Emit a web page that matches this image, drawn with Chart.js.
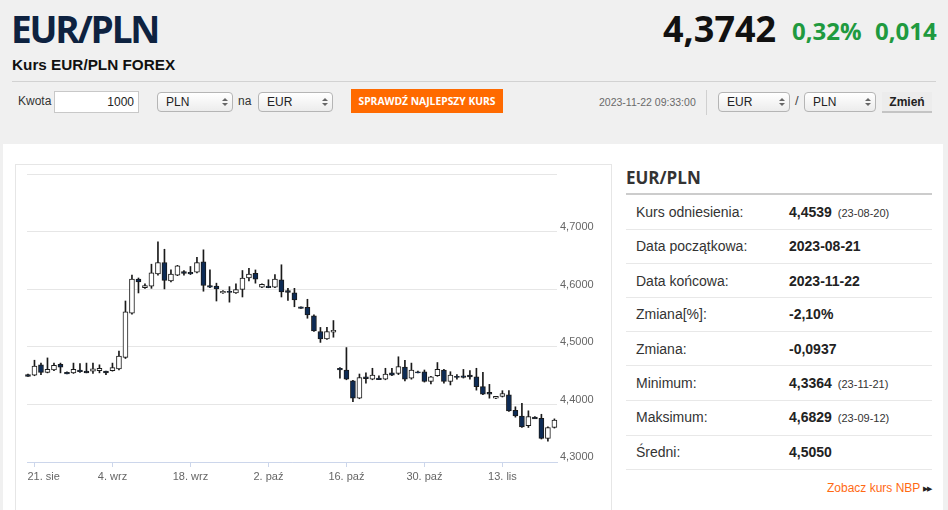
<!DOCTYPE html>
<html><head><meta charset="utf-8">
<script src="https://cdn.jsdelivr.net/npm/chart.js@4.4.0/dist/chart.umd.min.js"></script>
<style>
html,body{margin:0;padding:0;}
body{width:948px;height:510px;overflow:hidden;background:#f0f0f0;position:relative;font-family:Arial,"Liberation Sans",sans-serif;color:#333;}
.a{position:absolute;white-space:nowrap;}
.os{font-family:"Open Sans",Arial,sans-serif;font-weight:700;}
.sel{position:absolute;box-sizing:border-box;height:20px;border:1px solid #b5b5b5;border-radius:4px;background:linear-gradient(#ffffff,#ececec);font-size:12px;line-height:18px;padding-left:8px;color:#222;}
.sel .ar{position:absolute;right:7px;top:5px;width:0;height:0;}
.sel .ar:before{content:"";position:absolute;left:-3px;top:0;border-left:3px solid transparent;border-right:3px solid transparent;border-bottom:3px solid #666;}
.sel .ar:after{content:"";position:absolute;left:-3px;top:5px;border-left:3px solid transparent;border-right:3px solid transparent;border-top:3px solid #666;}
.row{position:absolute;left:636px;height:20px;line-height:20px;font-size:14px;color:#333;white-space:nowrap;}
.val{position:absolute;left:789px;height:20px;line-height:20px;font-size:14px;font-weight:bold;color:#222;white-space:nowrap;}
.val small{font-size:11px;font-weight:normal;color:#333;margin-left:6px;}
.ln{position:absolute;left:626px;width:306px;height:1px;background:#e8e8e8;}
</style></head>
<body>
<div class="a os" style="left:11px;top:10px;font-size:37px;line-height:37px;color:#0e2240;letter-spacing:-2.2px;">EUR/PLN</div>
<div class="a" style="left:12px;top:57px;font-size:15.3px;line-height:16px;font-weight:bold;color:#111;">Kurs EUR/PLN FOREX</div>
<div class="a os" style="left:663px;top:11px;font-size:36px;line-height:36px;color:#111;">4,3742</div>
<div class="a os" style="left:792px;top:19px;font-size:24px;line-height:24px;color:#1f9a3f;">0,32%</div>
<div class="a os" style="left:875px;top:19px;font-size:24px;line-height:24px;color:#1f9a3f;">0,014</div>
<div class="a" style="left:12px;top:81px;width:924px;height:1px;background:#d2d2d2;"></div>

<div class="a" style="left:18px;top:91px;font-size:12px;line-height:20px;color:#333;">Kwota</div>
<div class="a" style="left:54px;top:91px;width:85px;height:22px;box-sizing:border-box;border:1px solid #c8c8c8;background:#fff;font-size:12px;line-height:20px;text-align:right;padding-right:4px;color:#222;">1000</div>
<div class="sel" style="left:157px;top:92px;width:76px;">PLN<span class="ar"></span></div>
<div class="a" style="left:238px;top:91px;font-size:12px;line-height:20px;color:#333;">na</div>
<div class="sel" style="left:258px;top:92px;width:75px;">EUR<span class="ar"></span></div>
<div class="a os" style="left:351px;top:89px;width:152px;height:24px;background:#ff6a00;color:#fff;font-size:10.3px;line-height:24px;text-align:center;">SPRAWDŹ NAJLEPSZY KURS</div>
<div class="a" style="left:599px;top:92px;font-size:10.5px;line-height:20px;color:#6a6a6a;">2023-11-22 09:33:00</div>
<div class="a" style="left:706px;top:90px;width:1px;height:25px;background:#d0d0d0;"></div>
<div class="sel" style="left:718px;top:92px;width:72px;">EUR<span class="ar"></span></div>
<div class="a" style="left:795px;top:91px;font-size:13px;line-height:20px;color:#444;">/</div>
<div class="sel" style="left:804px;top:92px;width:72px;">PLN<span class="ar"></span></div>
<div class="a" style="left:882px;top:92px;width:50px;height:21px;box-sizing:border-box;background:#ececec;border-bottom:2px solid #c4c4c4;font-size:12px;font-weight:bold;line-height:20px;text-align:center;color:#222;">Zmień</div>

<div class="a" style="left:3px;top:144px;width:940px;height:380px;background:#fff;"></div>
<div class="a" style="left:15px;top:164px;width:595px;height:360px;border:1px solid #e6e6e6;"></div>
<div class="a" style="left:15px;top:164px;width:596px;height:330px;"><canvas id="c"></canvas></div>

<div class="a os" style="left:626px;top:166px;font-size:17px;line-height:23px;color:#333;">EUR/PLN</div>
<div class="a" style="left:626px;top:193px;width:306px;height:2px;background:#cccccc;"></div>
<div class="row" style="top:202px;">Kurs odniesienia:</div><div class="val" style="top:202px;">4,4539<small>(23-08-20)</small></div>
<div class="ln" style="top:229px;"></div>
<div class="row" style="top:236px;">Data początkowa:</div><div class="val" style="top:236px;">2023-08-21</div>
<div class="ln" style="top:263px;"></div>
<div class="row" style="top:271px;">Data końcowa:</div><div class="val" style="top:271px;">2023-11-22</div>
<div class="ln" style="top:297px;"></div>
<div class="row" style="top:304px;">Zmiana[%]:</div><div class="val" style="top:304px;">-2,10%</div>
<div class="ln" style="top:331px;"></div>
<div class="row" style="top:339px;">Zmiana:</div><div class="val" style="top:339px;">-0,0937</div>
<div class="ln" style="top:365px;"></div>
<div class="row" style="top:373px;">Minimum:</div><div class="val" style="top:373px;">4,3364<small>(23-11-21)</small></div>
<div class="ln" style="top:400px;"></div>
<div class="row" style="top:407px;">Maksimum:</div><div class="val" style="top:407px;">4,6829<small>(23-09-12)</small></div>
<div class="ln" style="top:435px;"></div>
<div class="row" style="top:442px;">Średni:</div><div class="val" style="top:442px;">4,5050</div>
<div class="ln" style="top:469px;"></div>
<div class="a" style="left:827px;top:478px;font-size:12px;line-height:20px;color:#ff6a13;">Zobacz kurs NBP <span style="color:#222;font-size:7px;letter-spacing:-1px;vertical-align:1px;">▶▶</span></div>

<script>
// Category positions (trading days incl. Sunday sessions), 2023-08-20 .. 2023-11-22
const dates = ['08-20','08-21','08-22','08-23','08-24','08-25','08-27','08-28','08-29','08-30','08-31','09-01',
'09-03','09-04','09-05','09-06','09-07','09-08','09-10','09-11','09-12','09-13','09-14','09-15',
'09-17','09-18','09-19','09-20','09-21','09-22','09-24','09-25','09-26','09-27','09-28','09-29',
'10-01','10-02','10-03','10-04','10-05','10-06','10-08','10-09','10-10','10-11','10-12','10-13',
'10-15','10-16','10-17','10-18','10-19','10-20','10-22','10-23','10-24','10-25','10-26','10-27',
'10-29','10-30','10-31','11-01','11-02','11-03','11-05','11-06','11-07','11-08','11-09','11-10',
'11-12','11-13','11-14','11-15','11-16','11-17','11-19','11-20','11-21','11-22'];
const tickDates = ['08-21','09-04','09-18','10-02','10-16','10-30','11-13'];
const tickLabels = ['21. sie','4. wrz','18. wrz','2. paź','16. paź','30. paź','13. lis'];
const yTickLabels = ['4,3000','4,4000','4,5000','4,6000','4,7000',''];

const opens = [4.452,4.451,4.469,4.456,4.460,4.470,4.456,4.455,4.460,4.458,4.458,4.459,
4.458,4.459,4.462,4.482,4.559,4.618,4.603,4.606,4.627,4.647,4.615,4.625,
4.631,4.630,4.630,4.648,4.607,4.606,4.594,4.597,4.594,4.600,4.620,4.628,
4.604,4.606,4.604,4.617,4.598,4.594,4.570,4.569,4.554,4.527,4.514,4.526,
4.463,4.460,4.441,4.411,4.448,4.444,4.446,4.444,4.455,4.454,4.465,4.446,
4.457,4.457,4.440,4.450,4.460,4.440,4.449,4.450,4.451,4.448,4.431,4.421,
4.411,4.414,4.417,4.390,4.380,4.363,4.378,4.376,4.341,4.360];
const highs = [4.453,4.477,4.472,4.481,4.472,4.472,4.457,4.472,4.471,4.472,4.472,4.469,
4.458,4.472,4.493,4.580,4.625,4.620,4.610,4.644,4.683,4.670,4.634,4.642,
4.633,4.640,4.656,4.669,4.634,4.611,4.598,4.605,4.610,4.633,4.637,4.634,
4.610,4.617,4.626,4.643,4.602,4.602,4.570,4.583,4.556,4.534,4.534,4.546,
4.464,4.499,4.442,4.453,4.455,4.463,4.450,4.463,4.463,4.483,4.477,4.472,
4.458,4.460,4.449,4.473,4.461,4.457,4.452,4.461,4.459,4.463,4.456,4.435,
4.414,4.424,4.424,4.396,4.402,4.389,4.379,4.383,4.361,4.375];
const lows = [4.449,4.450,4.452,4.455,4.459,4.455,4.453,4.454,4.456,4.455,4.454,4.455,
4.452,4.458,4.460,4.480,4.557,4.594,4.602,4.602,4.625,4.601,4.613,4.624,
4.625,4.626,4.629,4.597,4.603,4.580,4.593,4.578,4.593,4.587,4.615,4.611,
4.603,4.603,4.603,4.587,4.581,4.570,4.567,4.550,4.527,4.508,4.513,4.517,
4.446,4.443,4.405,4.410,4.437,4.443,4.443,4.443,4.450,4.452,4.441,4.444,
4.455,4.439,4.436,4.449,4.437,4.434,4.444,4.446,4.444,4.425,4.417,4.411,
4.410,4.413,4.388,4.378,4.360,4.360,4.376,4.340,4.3364,4.359];
const closes = [4.449,4.467,4.456,4.461,4.468,4.465,4.453,4.461,4.457,4.455,4.462,4.463,
4.455,4.464,4.484,4.561,4.618,4.613,4.607,4.629,4.647,4.616,4.627,4.641,
4.628,4.627,4.647,4.607,4.604,4.601,4.597,4.595,4.600,4.620,4.627,4.618,
4.609,4.603,4.618,4.596,4.595,4.582,4.567,4.556,4.528,4.514,4.527,4.529,
4.460,4.444,4.411,4.447,4.445,4.451,4.443,4.453,4.451,4.466,4.444,4.460,
4.455,4.440,4.448,4.461,4.440,4.451,4.447,4.447,4.448,4.431,4.418,4.418,
4.414,4.419,4.389,4.380,4.361,4.379,4.375,4.341,4.360,4.373];

const tickIdx = tickDates.map(d => dates.indexOf(d));
const bodies = opens.map((o, i) => ({x: i, y: [o, closes[i]]}));
const wicks = lows.map((l, i) => ({x: i, y: [l, highs[i]]}));
const bodyColors = opens.map((o, i) => closes[i] >= o ? '#ffffff' : '#0d2b55');
const fontFam = 'Arial, "Liberation Sans", sans-serif';

new Chart(document.getElementById('c'), {
  type: 'bar',
  data: {
    datasets: [
      {data: bodies, backgroundColor: bodyColors, borderColor: '#1a1a1a', borderWidth: 1,
       borderSkipped: false, barThickness: 5, grouped: false, clip: false},
      {data: wicks, backgroundColor: '#1a1a1a', borderWidth: 0, barThickness: 1, grouped: false, clip: false}
    ]
  },
  options: {
    responsive: true, maintainAspectRatio: false, animation: false,
    layout: {padding: {left: 12, top: 10.5, right: 0, bottom: 0}},
    plugins: {legend: {display: false}, tooltip: {enabled: false}},
    scales: {
      x: {
        type: 'linear', min: -0.15, max: dates.length - 0.6, bounds: 'data', offset: false,
        afterBuildTicks: s => { s.ticks = tickIdx.map(v => ({value: v})); },
        afterFit: s => { s.height = 32; s.paddingLeft = 0; s.paddingRight = 0; },
        ticks: {autoSkip: false, maxRotation: 0, padding: 3, color: '#666',
          font: {size: 11, family: fontFam},
          // first label is kept inside the plot area, as in the original
          callback: (v, i) => (i === 0 ? '      ' : '') + tickLabels[i]},
        grid: {offset: false, drawOnChartArea: false, color: '#ccd6eb', tickLength: 5},
        border: {color: '#ccd6eb'}
      },
      y: {
        position: 'right', min: 4.3, max: 4.8,
        afterFit: s => { s.width = 54; },
        ticks: {stepSize: 0.1, padding: 3, labelOffset: -5, color: '#666',
          font: {size: 11, family: fontFam}, callback: (v, i) => yTickLabels[i]},
        grid: {color: '#e6e6e6', drawTicks: false},
        border: {display: false}
      }
    }
  }
});
</script>
</body></html>
